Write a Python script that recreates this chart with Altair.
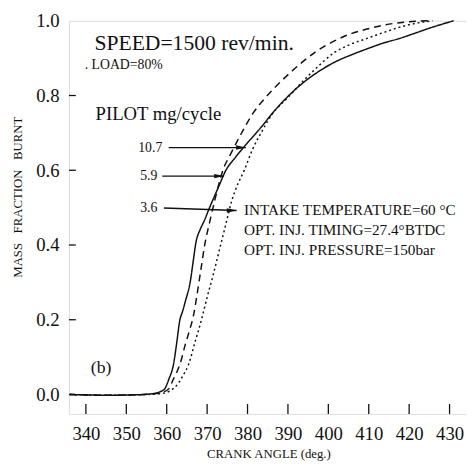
import altair as alt
import pandas as pd

# ---------------- data ----------------
crank_107 = [336, 345, 352, 357, 358.5, 359.5, 360.5, 361.7, 362.5, 363.2, 364.0, 364.6,
             365.8, 366.6, 367.2, 368.3, 369.3, 370.6, 371.8, 373.2, 374.4, 377.1, 379.4,
             383.6, 386.1, 389.3, 394.2, 398.0, 401.5, 405.5, 409.6, 413.5, 417.7, 421.5,
             425.8, 428.5, 431.0]
mfb_107 = [0.0, -0.002, -0.001, 0.003, 0.008, 0.015, 0.04, 0.082, 0.14, 0.196, 0.225, 0.249,
           0.30, 0.36, 0.405, 0.442, 0.465, 0.50, 0.53, 0.565, 0.595, 0.636, 0.666,
           0.718, 0.752, 0.79, 0.838, 0.867, 0.889, 0.908, 0.925, 0.94, 0.953, 0.967,
           0.983, 0.992, 1.0]

crank_59 = [336, 345, 352, 357, 359, 360.5, 361.6, 362.5, 363.4, 364.5, 365.6, 366.6, 367.4,
            368.4, 369.4, 370.6, 371.9, 373.9, 375.9, 378.4, 381.2, 384.4, 388.5, 393.4,
            397.0, 401.5, 405.5, 409.6, 413.5, 417.7, 425.0]
mfb_59 = [0.0, -0.002, -0.001, 0.002, 0.006, 0.015, 0.04, 0.06, 0.085, 0.13, 0.17, 0.21, 0.26,
          0.33, 0.40, 0.46, 0.52, 0.60, 0.645, 0.697, 0.75, 0.794, 0.84, 0.888,
          0.918, 0.946, 0.965, 0.978, 0.988, 0.995, 1.0]

crank_36 = [336, 345, 352, 357, 359, 360.5, 362.5, 364.0, 365.4, 367.0, 368.6, 370.0, 371.5,
            373.0, 374.5, 376.0, 377.1, 379.2, 381.2, 383.6, 386.1, 390.1, 393.4, 396.5,
            401.5, 405.5, 409.6, 413.5, 417.7, 421.5, 425.8]
mfb_36 = [0.0, -0.002, -0.001, 0.001, 0.003, 0.008, 0.025, 0.05, 0.08, 0.14, 0.2, 0.26, 0.32,
          0.385, 0.45, 0.515, 0.55, 0.60, 0.655, 0.705, 0.75, 0.796, 0.835, 0.868,
          0.915, 0.937, 0.953, 0.968, 0.983, 0.993, 1.0]

pilot_labels = ["10.7", "5.9", "3.6"]
x_ticks = [340, 350, 360, 370, 380, 390, 400, 410, 420, 430]
y_ticks = [0.0, 0.2, 0.4, 0.6, 0.8, 1.0]

# annotation texts (data coordinates)
note_text = ["SPEED=1500 rev/min.", ". LOAD=80%", "PILOT mg/cycle",
             "INTAKE TEMPERATURE=60 \u00b0C", "OPT. INJ. TIMING=27.4\u00b0BTDC",
             "OPT. INJ. PRESSURE=150bar", "(b)"]
note_x = [342.1, 339.7, 342.4, 379.1, 379.1, 379.1, 341.2]
note_y = [0.9395, 0.8816, 0.750, 0.4924, 0.4398, 0.3872, 0.0715]
note_size = [22, 14, 19, 15.5, 15.5, 15.5, 18]

# pilot labels and arrows
lab_x = [358.9, 357.7, 357.7]
lab_y = [0.6607, 0.5844, 0.4976]
arrow_x = [360.5, 358.9, 359.3]
arrow_x2 = [379.6, 374.2, 377.3]
arrow_y = [0.6607, 0.5844, 0.4990]
arrow_y2 = [0.6607, 0.5844, 0.4924]

# ---------------- frames ----------------
rows = []
for lab, xs, ys in zip(pilot_labels, [crank_107, crank_59, crank_36], [mfb_107, mfb_59, mfb_36]):
    for i, (a, b) in enumerate(zip(xs, ys)):
        rows.append({"pilot": lab, "crank": a, "mfb": b, "order": i})
df_lines = pd.DataFrame(rows)
df_notes = pd.DataFrame({"x": note_x, "y": note_y, "t": note_text, "fs": note_size})
df_labs = pd.DataFrame({"x": lab_x, "y": lab_y, "t": pilot_labels})
df_arr = pd.DataFrame({"x": arrow_x, "x2": arrow_x2, "y": arrow_y, "y2": arrow_y2})
df_xt = pd.DataFrame({"v": x_ticks})
df_yt = pd.DataFrame({"v": y_ticks[:-1]})

INK = "#111111"
FONT = "Liberation Serif"
W, H = 404, 400

xscale = alt.Scale(domain=[335.8, 434.07], nice=False, zero=False)
yscale = alt.Scale(domain=[-0.052, 1.0], nice=False, zero=False)

x_axis = alt.Axis(values=x_ticks, format="d", grid=False, ticks=False, domain=False,
                  labelFont=FONT, labelFontSize=19, labelColor=INK, labelPadding=11,
                  title="CRANK ANGLE (deg.)", titleFont=FONT, titleFontSize=13,
                  titleFontWeight="normal", titleColor=INK, titleX=203, titleY=40,
                  titleBaseline="middle", titleAlign="center")
y_axis = alt.Axis(values=y_ticks, format=".1f", grid=False, ticks=False, domain=False,
                  labelFont=FONT, labelFontSize=19, labelColor=INK, labelPadding=10,
                  title="MASS\u00a0\u00a0\u00a0FRACTION\u00a0\u00a0\u00a0BURNT", titleFont=FONT,
                  titleFontSize=13, titleFontWeight="normal", titleColor=INK,
                  titleAngle=270, titleX=-52, titleY=179, titleBaseline="middle",
                  titleAlign="center")

lines = alt.Chart(df_lines).mark_line(interpolate="monotone", color=INK, strokeWidth=1.5).encode(
    x=alt.X("crank:Q", scale=xscale, axis=x_axis),
    y=alt.Y("mfb:Q", scale=yscale, axis=y_axis),
    strokeDash=alt.StrokeDash("pilot:N", scale=alt.Scale(domain=pilot_labels,
                              range=[[1, 0], [7, 5], [2, 3]]), legend=None),
    detail="pilot:N",
    order="order:Q",
)

xt = alt.Chart(df_xt).mark_rule(color=INK, strokeWidth=1.3).encode(
    x=alt.X("v:Q", scale=xscale), y=alt.value(H), y2=alt.value(H - 10))
yt = alt.Chart(df_yt).mark_rule(color=INK, strokeWidth=1.3).encode(
    y=alt.Y("v:Q", scale=yscale), x=alt.value(0), x2=alt.value(7))

notes = alt.Chart(df_notes).mark_text(align="left", baseline="middle", font=FONT, color=INK).encode(
    x=alt.X("x:Q", scale=xscale), y=alt.Y("y:Q", scale=yscale), text="t:N",
    size=alt.Size("fs:Q", scale=None, legend=None))
labs = alt.Chart(df_labs).mark_text(align="right", baseline="middle", font=FONT, color=INK,
                                    fontSize=14).encode(
    x=alt.X("x:Q", scale=xscale), y=alt.Y("y:Q", scale=yscale), text="t:N")
arrows = alt.Chart(df_arr).mark_rule(color=INK, strokeWidth=1.4).encode(
    x=alt.X("x:Q", scale=xscale), x2="x2:Q", y=alt.Y("y:Q", scale=yscale), y2="y2:Q")
heads = alt.Chart(df_arr).mark_point(shape="M0,0L-2,-0.45L-2,0.45Z", filled=True, size=100,
                                     color=INK, opacity=1).encode(
    x=alt.X("x2:Q", scale=xscale), y=alt.Y("y2:Q", scale=yscale))

chart = alt.layer(lines, xt, yt, arrows, heads, labs, notes).properties(
    width=W, height=H,
    autosize=alt.AutoSizeParams(type="none"),
    padding={"left": 62, "top": 9, "right": 0, "bottom": 50},
).configure_view(stroke=INK, strokeWidth=1.4).configure(background="white")

chart.save("out.html", embed_options={"renderer": "svg", "actions": False})
